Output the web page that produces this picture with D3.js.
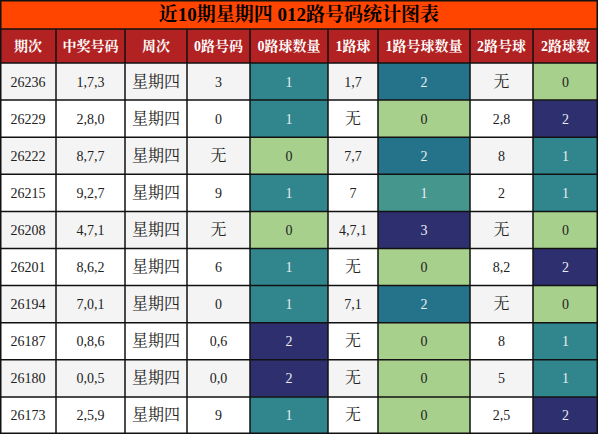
<!DOCTYPE html><html><head><meta charset="utf-8"><script src="https://d3js.org/d3.v7.min.js"></script>
<style>body{margin:0;background:#fff}</style></head><body><svg id="c" width="598" height="434"></svg><script>
const title="近10期星期四 012路号码统计图表";
const headers=["期次","中奖号码","周次","0路号码","0路球数量","1路球","1路号球数量","2路号球","2路球数"];
const issues=["26236","26229","26222","26215","26208","26201","26194","26187","26180","26173"];
const numbers=["1,7,3","2,8,0","8,7,7","9,2,7","4,7,1","8,6,2","7,0,1","0,8,6","0,0,5","2,5,9"];
const weekday=["星期四","星期四","星期四","星期四","星期四","星期四","星期四","星期四","星期四","星期四"];
const r0=["3","0","无","9","无","6","0","0,6","0,0","9"];
const c0=[1,1,0,1,0,1,1,2,2,1];
const r1=["1,7","无","7,7","7","4,7,1","无","7,1","无","无","无"];
const c1=[2,0,2,1,3,0,2,0,0,0];
const r2=["无","2,8","8","2","无","8,2","无","8","5","2,5"];
const c2=[0,2,1,1,0,2,0,1,1,2];
const cols=[issues,numbers,weekday,r0,c0,r1,c1,r2,c2];
const countCols=new Set([4,6,8]);
const edges=[0,56,125,187,250,328,378,470,533,598];
const svg=d3.select("#c");
const font="'Liberation Serif','Noto Serif CJK SC','Noto Sans CJK SC',serif";
const y=d3.scaleBand().domain(d3.range(10)).range([63,434]);
const interp=d3.piecewise(d3.interpolateRgb,["#a8d08d","#4f9e8e","#31858c","#1f6a8a","#2e2f6e"]);
svg.append("rect").attr("x",0).attr("y",0).attr("width",598).attr("height",29).attr("fill","#ff4500");
svg.append("text").attr("x",299).attr("y",21).attr("text-anchor","middle").attr("font-family",font).attr("font-weight","bold").attr("font-size",19).text(title);
svg.append("rect").attr("x",0).attr("y",29).attr("width",598).attr("height",34).attr("fill","#b22222");
headers.forEach((h,i)=>svg.append("text").attr("x",(edges[i]+edges[i+1])/2).attr("y",51).attr("text-anchor","middle").attr("fill","#fff").attr("font-weight","bold").attr("font-family",font).attr("font-size",14).text(h));
function colorFor(ci,v){const m=d3.max(cols[ci]);const pos=[[0,0],[0,0]];
 if(m===2) return v===0?"#a8d08d":v===1?"#31858c":"#2e2f6e";
 return interp(v/m);}
for(let r=0;r<10;r++){
 for(let ci=0;ci<9;ci++){
  const v=cols[ci][r];const x0=edges[ci],w=edges[ci+1]-edges[ci];
  let fill=r%2===0?"#f4f4f4":"#ffffff",tc="#222";
  if(countCols.has(ci)){fill=colorFor(ci,v);tc=v===0?"#222":"#e8eef0";}
  svg.append("rect").attr("x",x0).attr("y",y(r)).attr("width",w).attr("height",y.bandwidth()).attr("fill",fill);
  svg.append("text").attr("x",x0+w/2).attr("y",y(r)+y.bandwidth()/2+5).attr("text-anchor","middle").attr("fill",tc).attr("font-family",font).attr("font-size",v==="无"||ci===2?16:14).text(v);
 }
}
const g=svg.append("g").attr("stroke","#111").attr("stroke-width",1.5);
[0.75,29,63,...d3.range(1,10).map(i=>y(i)),433.25].forEach(yy=>g.append("line").attr("x1",0).attr("x2",598).attr("y1",yy).attr("y2",yy));
edges.forEach((x,i)=>g.append("line").attr("x1",i===0?0.75:i===9?597.25:x).attr("x2",i===0?0.75:i===9?597.25:x).attr("y1",i===0||i===9?0:29).attr("y2",434));
</script></body></html>
